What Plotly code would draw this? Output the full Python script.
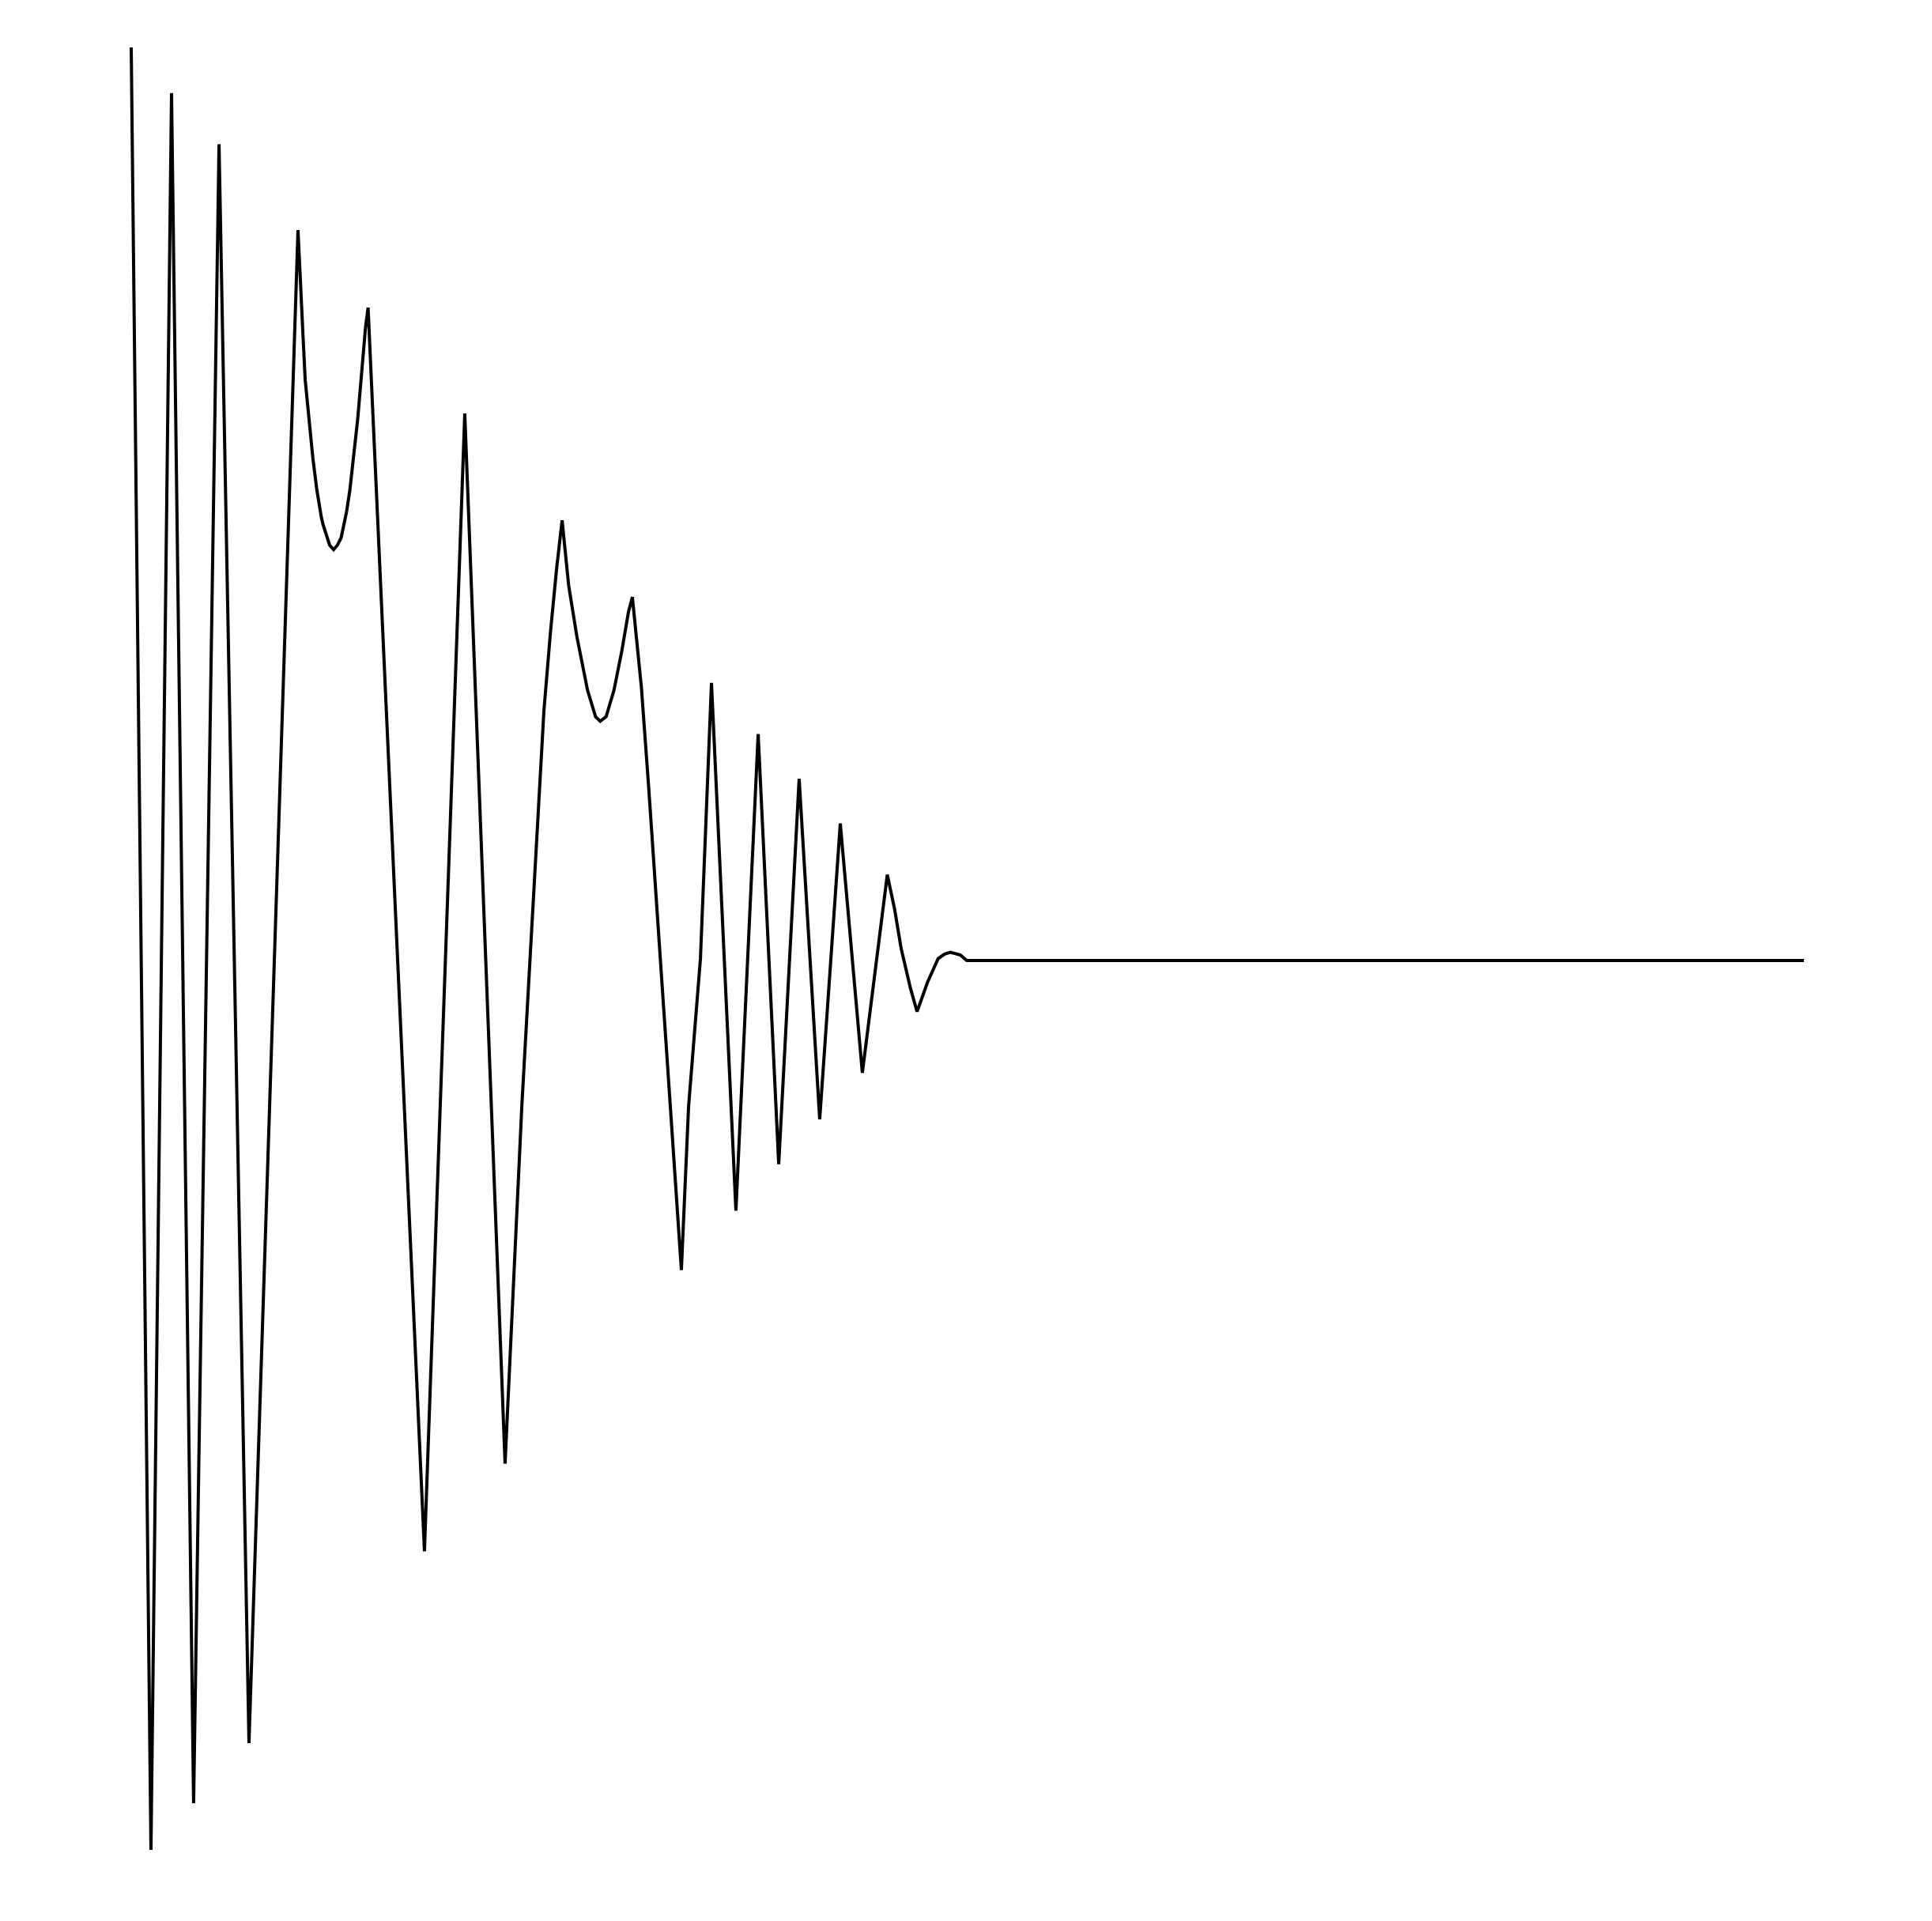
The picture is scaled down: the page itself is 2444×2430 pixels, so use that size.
import plotly.graph_objects as go

# Damped oscillation trace: time (arbitrary units, 0-100) and normalised amplitude
time = [
    0.00, 1.18, 2.41, 3.73, 5.25, 7.04, 9.97,
    10.11, 10.19, 10.26, 10.40, 10.61, 10.86, 11.10, 11.29, 11.37, 11.46, 11.69, 11.86, 12.10,
    12.33, 12.55, 12.74, 12.88, 13.07, 13.28, 13.54, 13.74, 13.89, 14.01, 14.16,
    17.53, 19.94, 22.35,
    23.35, 23.87, 24.37, 24.67, 25.06, 25.43, 25.76,
    26.15, 26.65, 27.28, 27.76, 28.04, 28.39, 28.86, 29.33, 29.73, 29.96,
    30.50, 30.95, 31.57, 32.23, 32.89,
    33.32, 34.03, 34.69,
    36.15, 37.48, 38.71, 39.93, 41.16, 42.39, 43.71, 45.20,
    45.64, 46.03, 46.58, 46.98,
    47.60, 48.24, 48.63, 48.97, 49.57, 49.95,
    100.00,
]
amplitude = [
    1.000, -0.974, 0.950, -0.923, 0.894, -0.857, 0.800,
    0.752, 0.723, 0.688, 0.636, 0.593, 0.550, 0.515, 0.492, 0.485, 0.478, 0.463, 0.455, 0.450,
    0.455, 0.463, 0.478, 0.492, 0.515, 0.550, 0.593, 0.636, 0.671, 0.694, 0.715,
    -0.647, 0.599, -0.551,
    -0.160, 0.013, 0.186, 0.273, 0.359, 0.429, 0.482,
    0.411, 0.354, 0.296, 0.267, 0.262, 0.267, 0.296, 0.339, 0.382, 0.398,
    0.299, 0.186, 0.013, -0.160, -0.339,
    -0.160, 0.002, 0.304,
    -0.274, 0.248, -0.223, 0.199, -0.174, 0.150, -0.123, 0.094,
    0.056, 0.013, -0.030, -0.056,
    -0.024, 0.002, 0.007, 0.009, 0.006, 0.000,
    0.000,
]

x_range = [-0.945, 100.945]
y_range = [-1.0173, 1.0173]

fig = go.Figure(
    go.Scatter(
        x=time,
        y=amplitude,
        mode="lines",
        line=dict(color="#000000", width=4, shape="linear"),
        hoverinfo="skip",
        showlegend=False,
    )
)

fig.update_layout(
    width=2444,
    height=2430,
    margin=dict(l=146, r=142, t=40, b=40, pad=0),
    paper_bgcolor="#ffffff",
    plot_bgcolor="#ffffff",
    xaxis=dict(range=x_range, visible=False, showgrid=False, zeroline=False, fixedrange=True),
    yaxis=dict(range=y_range, visible=False, showgrid=False, zeroline=False, fixedrange=True),
)

fig.write_html(
    "out.html",
    config={"displayModeBar": False},
    post_script="document.body.style.margin='0';document.body.style.overflow='hidden';",
)
